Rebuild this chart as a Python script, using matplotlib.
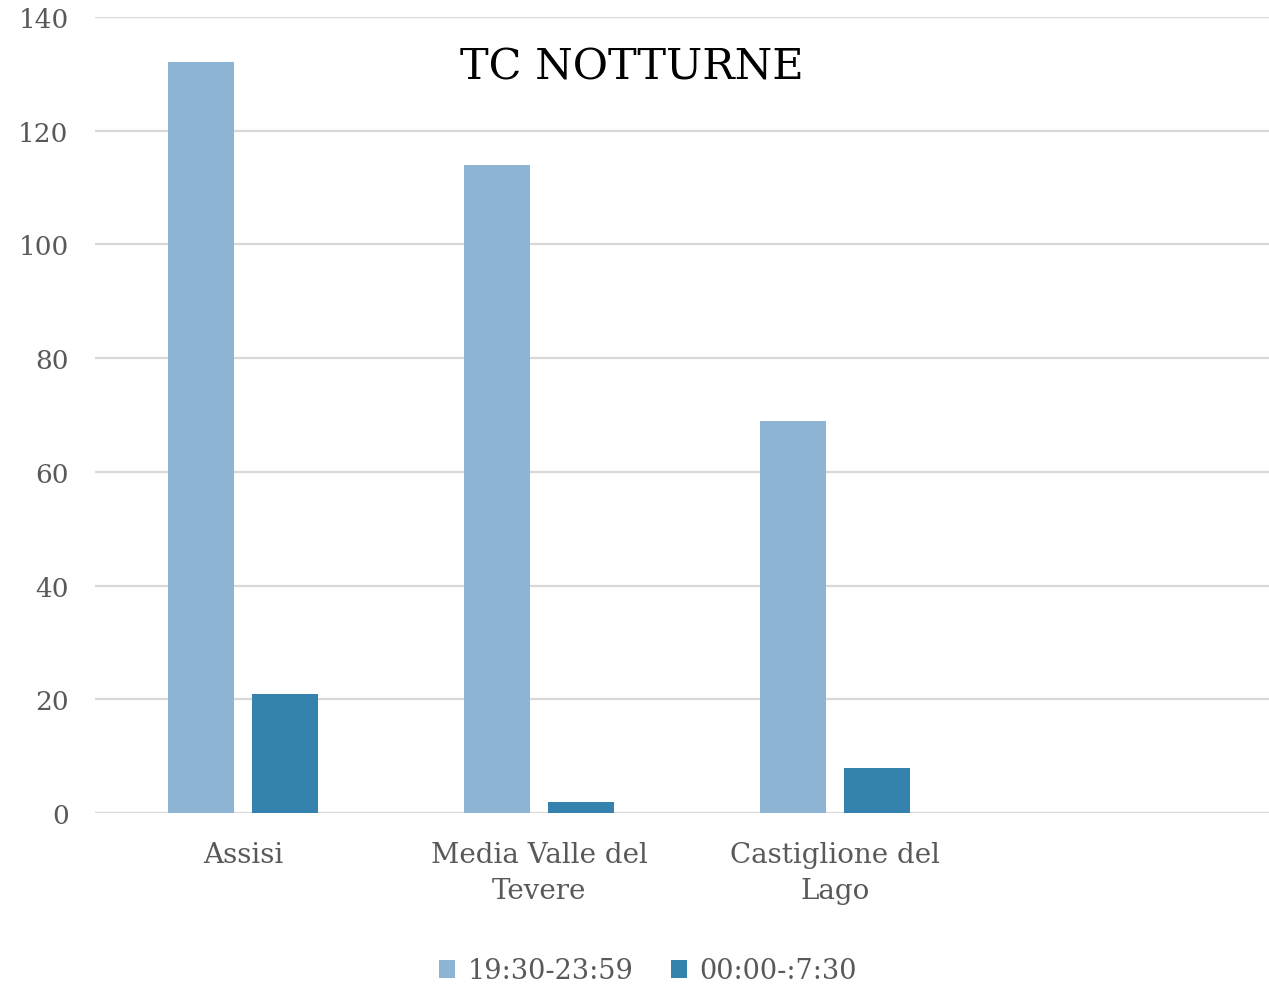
import matplotlib
matplotlib.use("Agg")
import matplotlib.pyplot as plt
import numpy as np
from matplotlib.patches import Patch

categories = ["Assisi", "Media Valle del\nTevere", "Castiglione del\nLago", ""]
series_names = ["19:30-23:59", "00:00-:7:30"]
evening = [132, 114, 69, 0]
night = [21, 2, 8, 0]
colors = ["#8DB3D5", "#3482AD"]
title = "TC NOTTURNE"
yticks = [0, 20, 40, 60, 80, 100, 120, 140]

plt.rcParams['font.family'] = ['DejaVu Serif']

fig = plt.figure(figsize=(12.69, 9.87), dpi=100)
ax = fig.add_axes([95/1269, 1 - 814/987, 1184/1269, (814-18)/987])

x = np.arange(len(categories))
w = 0.223
off = 0.142
ax.bar(x[:3] - off, evening[:3], width=w, color=colors[0], zorder=3)
ax.bar(x[:3] + off, night[:3], width=w, color=colors[1], zorder=3)

ax.set_xlim(-0.5, 3.5)
ax.set_ylim(0, 140)
ax.set_yticks(yticks)
ax.set_yticklabels([str(t) for t in yticks], fontsize=19, color="#595959")
ax.set_xticks(x)
ax.set_xticklabels(categories, fontsize=20, color="#595959", linespacing=1.45)
ax.tick_params(axis='y', length=0, pad=19)
ax.tick_params(axis='x', length=0, pad=20)
ax.grid(axis='y', color="#D9D9D9", linewidth=1.6, zorder=0)
for s in ax.spines.values():
    s.set_visible(False)

fig.text(632/1269, 1 - 67/987, title, fontsize=31, color="black", ha="center", va="center",
         fontweight="medium")

handles = [Patch(facecolor=c, edgecolor='none') for c in colors]
fig.legend(handles, series_names, loc="center", bbox_to_anchor=(648/1269, 1 - 972/987),
           ncol=2, frameon=False, fontsize=19.5, handlelength=0.6, handleheight=0.6,
           handletextpad=0.45, columnspacing=1.4, labelcolor="#595959")

fig.savefig("out.png", dpi=100)
